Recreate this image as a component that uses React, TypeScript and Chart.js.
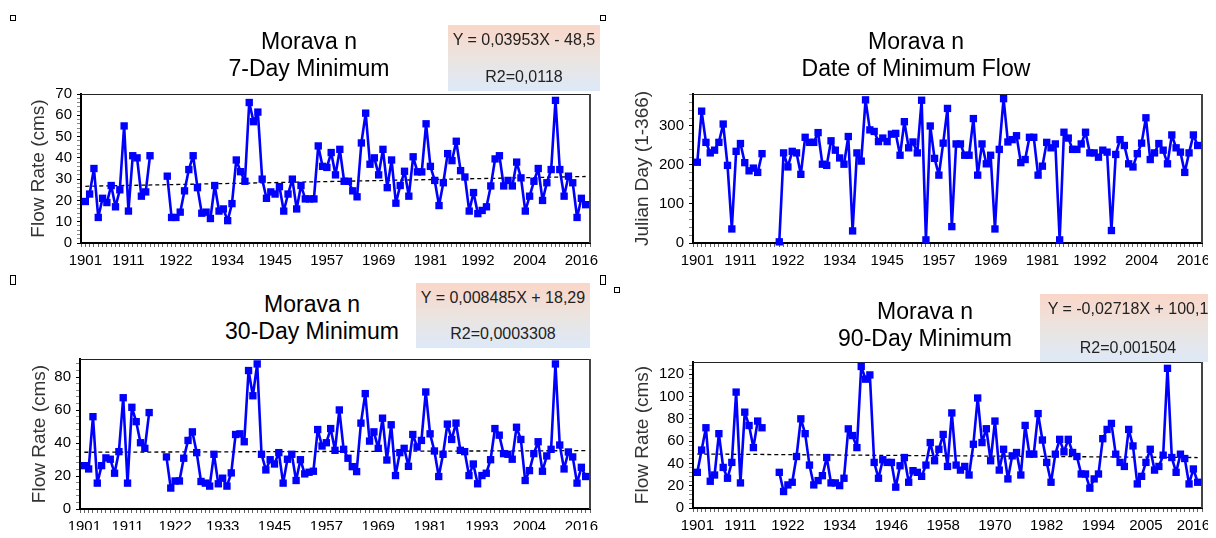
import React, { useEffect, useRef } from 'react';
import { Chart, registerables } from 'chart.js';
Chart.register(...registerables);

// ---------- data ----------
const FIRST_YEAR = 1901;
const LAST_YEAR = 2017;
const years: number[] = [];
for (let y = FIRST_YEAR; y <= LAST_YEAR; y++) years.push(y);

const min7Day = [
  19.5, 23, 35, 12, 21, 19, 27, 17, 25, 55,
  15, 41, 40, 22, 24, 41, null, null, null, 31.4,
  12, 12, 14.5, 24.5, 34.5, 41, 26, 14, 14.5, 11.5,
  27, 15, 16, 10.5, 18.5, 39, 33.5, 29, 66, 57,
  61.5, 30, 21, 24, 23, 26.5, 15, 23, 30, 16,
  27, 20.7, 20.7, 20.7, 45.6, 36, 35.5, 42.5, 32, 44,
  29, 29, 24.5, 21.7, 47, 61, 37, 40, 32, 44,
  26, 39, 18.7, 27, 33.7, 22, 40.5, 33.4, 33.4, 56,
  36, 29.4, 17.6, 28.3, 42, 38.7, 47.8, 34, 31, 15,
  23.7, 13.8, 15.3, 17, 26.8, 39.5, 41, 26.8, 29.4, 26.8,
  38, 30.6, 15, 22, 29, 35, 20, 28.3, 34.5, 67,
  34.5, 22, 31.4, 28.3, 12, 21, 18,
];

const minDate = [
  207, 338, 258, 231, 238, 258, 305, 199, 36, 235,
  255, 206, 185, 192, 181, 229, null, null, null, 3,
  231, 195, 235, 231, 176, 271, 258, 258, 283, 202,
  199, 262, 238, 218, 202, 273, 31, 231, 210, 367,
  290, 286, 260, 269, 260, 279, 281, 225, 311, 244,
  259, 231, 366, 8, 300, 217, 174, 256, 345, 42,
  254, 254, 225, 225, 319, 174, 254, 203, 225, 36,
  240, 370, 259, 265, 275, 206, 214, 271, 271, 174,
  197, 258, 244, 254, 8, 284, 269, 240, 240, 254,
  284, 231, 231, 220, 238, 233, 32, 227, 265, 250,
  203, 195, 229, 256, 321, 214, 231, 255, 238, 203,
  277, 244, 233, 181, 231, 277, 250,
];

const min30Day = [
  26.3, 24.3, 56, 15.7, 26.3, 31, 30.2, 21.7, 34.8, 67.5,
  15.7, 61.7, 53, 40.2, 36.8, 58.5, null, null, null, 31.6,
  12.7, 17, 17, 30.8, 41.6, 46.8, 34.2, 16.7, 15.7, 13.9,
  33.2, 15.3, 18.7, 13.9, 21.9, 45.2, 45.6, 40.8, 84, 68.7,
  88, 33.2, 23.7, 29.9, 27.3, 34.2, 15.7, 30.2, 33.2, 17.3,
  29.9, 21.3, 22.3, 22.9, 48.2, 38.2, 40.2, 48.8, 35.6, 60.1,
  36.2, 30.8, 25.7, 22.7, 52.1, 70, 41.2, 46.8, 36.8, 55.1,
  29.7, 51.1, 20.3, 34.2, 36.8, 25.9, 45.2, 37.6, 41.6, 71,
  45.6, 35.2, 19.7, 33.2, 51.5, 42.2, 52.1, 35.6, 34.8, 20.3,
  27.3, 15.3, 20.3, 21.7, 29.9, 48.8, 44.8, 33.6, 33.2, 30.2,
  49.6, 42.2, 17.3, 23.3, 33.6, 40.8, 22.9, 32.2, 36.2, 88,
  38.8, 24.3, 34.6, 31.6, 15.7, 25.3, 19.7,
];

const min90Day = [
  32, 52, 72, 24, 29.6, 66.7, 36.4, 26.7, 40.9, 104,
  22.5, 86, 74, 54.2, 78, 72, null, null, null, 32,
  14.8, 20.7, 23.1, 46.2, 80, 66.7, 38.5, 20.7, 24.6, 29,
  45.3, 22.5, 22.5, 20.1, 26.7, 71, 65, 54.2, 127, 115.6,
  119.4, 40.9, 26.7, 43.3, 40.9, 40.9, 18.7, 37.9, 45.3, 23.1,
  33.5, 32, 28.4, 38.5, 58.7, 42.4, 52.7, 66, 37.3, 85.3,
  38.5, 34, 37.3, 29.6, 57.2, 98.7, 58.7, 71.1, 42.4, 78,
  34, 52.7, 26.1, 46.8, 49.8, 29.6, 74.1, 48.3, 48.3, 84.7,
  61, 40.9, 23.1, 48.3, 61.6, 50.4, 61.6, 49.8, 46.2, 30.5,
  30.5, 17.8, 26.1, 30.5, 62.2, 70.5, 75.9, 48.3, 40.9, 37.3,
  70.5, 55.7, 21.6, 28.4, 40.9, 52.7, 34, 37.3, 47.4, 125.3,
  45.3, 32, 48.3, 44.4, 21.6, 35, 23.1,
];

const xLabels7 = [1901, 1911, 1922, 1934, 1945, 1957, 1969, 1981, 1992, 2004, 2016];
const xLabelsDate = [1901, 1911, 1922, 1934, 1945, 1957, 1969, 1981, 1992, 2004, 2016];
const xLabels30 = [1901, 1911, 1922, 1933, 1945, 1957, 1969, 1981, 1993, 2004, 2016];
const xLabels90 = [1901, 1911, 1922, 1934, 1946, 1958, 1970, 1982, 1994, 2005, 2016];

const yLabels7 = [0, 10, 20, 30, 40, 50, 60, 70];
const yLabelsDate = [0, 100, 200, 300];
const yLabels30 = [0, 20, 40, 60, 80];
const yLabels90 = [0, 20, 40, 60, 80, 100, 120];

const trend7 = { slope: 0.03953, intercept: -48.5 };
const trend30 = { slope: 0.008485, intercept: 18.29 };
const trend90 = { slope: -0.02718, intercept: 100.1 };

// ---------- styling ----------
const FONT = "'Liberation Sans', Arial, Helvetica, sans-serif";

const framePlugin = {
  id: 'frame',
  beforeDatasetsDraw(chart: any) {
    const { ctx, chartArea } = chart;
    const { left, right, top, bottom } = chartArea;
    ctx.save();
    ctx.strokeStyle = '#222';
    ctx.lineWidth = 1;
    ctx.beginPath();
    ctx.moveTo(left, Math.round(top) + 0.5);
    ctx.lineTo(right, Math.round(top) + 0.5);
    ctx.stroke();
    ctx.strokeStyle = '#444';
    ctx.lineWidth = 2;
    ctx.beginPath();
    ctx.moveTo(Math.round(right), top);
    ctx.lineTo(Math.round(right), bottom);
    ctx.stroke();
    ctx.restore();
  },
};

type PanelCfg = {
  values: (number | null)[];
  xLabels: number[];
  yLabels: number[];
  yMinorStep: number;
  yMax: number;
  yTitle: string;
  trend?: { slope: number; intercept: number };
  left: number;
  top: number;
  width: number;
  height: number;
  padTop: number;
  padRight: number;
  yAxisWidth: number;
  xAxisHeight: number;
  yTitlePad: number;
};

function Panel({ cfg }: { cfg: PanelCfg }) {
  const ref = useRef<HTMLCanvasElement | null>(null);
  useEffect(() => {
    if (!ref.current) return;
    const pts = years.map((yr, i) => ({ x: yr, y: cfg.values[i] }));
    const datasets: any[] = [
      {
        data: pts,
        borderColor: '#0000ff',
        backgroundColor: '#0000ff',
        borderWidth: 2.6,
        borderJoinStyle: 'round',
        borderCapStyle: 'round',
        pointStyle: 'rect',
        pointRadius: 5.2,
        pointBorderWidth: 0,
        spanGaps: false,
        tension: 0,
        order: 1,
        clip: false,
      },
    ];
    if (cfg.trend) {
      const t = cfg.trend;
      datasets.push({
        data: [
          { x: FIRST_YEAR, y: t.slope * FIRST_YEAR + t.intercept },
          { x: LAST_YEAR, y: t.slope * LAST_YEAR + t.intercept },
        ],
        borderColor: '#000',
        borderWidth: 1.3,
        borderDash: [4, 3],
        pointRadius: 0,
        order: 2,
      });
    }
    const xTickVals: number[] = [];
    for (let v = FIRST_YEAR - 1; v <= LAST_YEAR + 1; v++) xTickVals.push(v);
    const yTickVals: number[] = [];
    for (let v = 0; v <= cfg.yMax + 1e-9; v += cfg.yMinorStep) yTickVals.push(Math.round(v * 1000) / 1000);
    const xSet = new Set(cfg.xLabels);
    const ySet = new Set(cfg.yLabels);

    const chart = new Chart(ref.current, {
      type: 'line',
      data: { datasets },
      plugins: [framePlugin],
      options: {
        animation: false,
        responsive: false,
        maintainAspectRatio: false,
        layout: { padding: { top: cfg.padTop, right: cfg.padRight, left: 0, bottom: 0 } },
        plugins: { legend: { display: false }, tooltip: { enabled: false }, title: { display: false } },
        scales: {
          x: {
            type: 'linear',
            min: FIRST_YEAR - 1,
            max: LAST_YEAR + 1,
            afterBuildTicks: (s: any) => {
              s.ticks = xTickVals.map((v) => ({ value: v }));
            },
            afterFit: (s: any) => {
              s.height = cfg.xAxisHeight;
            },
            ticks: {
              autoSkip: false,
              maxRotation: 0,
              minRotation: 0,
              padding: 5,
              color: '#000',
              font: { family: FONT, size: 15 },
              callback: (v: any) => (xSet.has(v) ? String(v) : ''),
            },
            grid: { drawOnChartArea: false, tickLength: 4, tickColor: '#666', tickWidth: 1 },
            border: { display: true, color: '#000', width: 2 },
          },
          y: {
            type: 'linear',
            min: 0,
            max: cfg.yMax,
            afterBuildTicks: (s: any) => {
              s.ticks = yTickVals.map((v) => ({ value: v }));
            },
            afterFit: (s: any) => {
              s.width = cfg.yAxisWidth;
            },
            ticks: {
              autoSkip: false,
              padding: 5,
              color: '#000',
              font: { family: FONT, size: 15 },
              callback: (v: any) => (ySet.has(v) ? String(v) : ''),
            },
            grid: {
              drawOnChartArea: false,
              tickLength: 4,
              tickWidth: 1,
              tickColor: (c: any) => (c.tick && ySet.has(c.tick.value) ? '#000' : '#888'),
            },
            border: { display: true, color: '#000', width: 2 },
            title: {
              display: true,
              text: cfg.yTitle,
              color: '#333',
              font: { family: FONT, size: 19 },
              padding: { top: cfg.yTitlePad, bottom: 0 },
            },
          },
        },
      } as any,
    });
    return () => chart.destroy();
  }, []);
  return (
    <canvas
      ref={ref}
      width={cfg.width}
      height={cfg.height}
      style={{ position: 'absolute', left: cfg.left, top: cfg.top, width: cfg.width, height: cfg.height }}
    />
  );
}

const panels: PanelCfg[] = [
  {
    values: min7Day, xLabels: xLabels7, yLabels: yLabels7, yMinorStep: 2, yMax: 70,
    yTitle: 'Flow Rate (cms)', trend: trend7,
    left: 0, top: 80, width: 600, height: 200, padTop: 11, padRight: 10, yAxisWidth: 81, xAxisHeight: 37, yTitlePad: 27,
  },
  {
    values: minDate, xLabels: xLabelsDate, yLabels: yLabelsDate, yMinorStep: 20, yMax: 382,
    yTitle: 'Julian Day (1-366)',
    left: 600, top: 80, width: 616, height: 200, padTop: 11, padRight: 14, yAxisWidth: 93, xAxisHeight: 37, yTitlePad: 31,
  },
  {
    values: min30Day, xLabels: xLabels30, yLabels: yLabels30, yMinorStep: 4, yMax: 91,
    yTitle: 'Flow Rate (cms)', trend: trend30,
    left: 0, top: 345, width: 600, height: 193, padTop: 11, padRight: 10, yAxisWidth: 80, xAxisHeight: 29, yTitlePad: 28,
  },
  {
    values: min90Day, xLabels: xLabels90, yLabels: yLabels90, yMinorStep: 4, yMax: 131,
    yTitle: 'Flow Rate (cms)', trend: trend90,
    left: 600, top: 345, width: 616, height: 193, padTop: 17, padRight: 14, yAxisWidth: 93, xAxisHeight: 30, yTitlePad: 31,
  },
];

const titles = [
  { cx: 309, y: 28, lines: ['Morava n', '7-Day Minimum'] },
  { cx: 916, y: 28, lines: ['Morava n', 'Date of Minimum Flow'] },
  { cx: 312, y: 291, lines: ['Morava n', '30-Day Minimum'] },
  { cx: 925, y: 298, lines: ['Morava n', '90-Day Minimum'] },
];

const eqBoxes = [
  { left: 448, top: 25, width: 152, height: 66, eq: 'Y = 0,03953X - 48,5', r2: 'R2=0,0118' },
  { left: 416, top: 283, width: 174, height: 65, eq: 'Y = 0,008485X + 18,29', r2: 'R2=0,0003308' },
  { left: 1040, top: 294, width: 176, height: 68, eq: 'Y = -0,02718X + 100,1', r2: 'R2=0,001504' },
];

const handles = [
  { x: 10, y: 15, w: 6, h: 6 },
  { x: 600, y: 15, w: 6, h: 6 },
  { x: 10, y: 275, w: 6, h: 10 },
  { x: 600, y: 275, w: 6, h: 10 },
  { x: 614, y: 287, w: 6, h: 6 },
  { x: 1210, y: 289, w: 6, h: 6 },
];

export default function App() {
  return (
    <div style={{ position: 'relative', width: 1216, height: 538, background: '#fff', margin: -8, overflow: 'hidden', fontFamily: FONT }}>
      {panels.map((p, i) => (
        <Panel key={i} cfg={p} />
      ))}
      {titles.map((t, i) => (
        <div
          key={'t' + i}
          style={{
            position: 'absolute', left: t.cx - 150, top: t.y, width: 300, textAlign: 'center',
            fontSize: 23, lineHeight: '27px', color: '#000',
          }}
        >
          {t.lines.map((l, j) => (
            <div key={j}>{l}</div>
          ))}
        </div>
      ))}
      {eqBoxes.map((b, i) => (
        <div
          key={'e' + i}
          style={{
            position: 'absolute', left: b.left, top: b.top, width: b.width, height: b.height,
            background: 'linear-gradient(to bottom, #fad6c8 0%, #ebe4e0 50%, #dde9f8 100%)',
            color: '#222', fontSize: 16, textAlign: 'center', whiteSpace: 'nowrap',
          }}
        >
          <div style={{ position: 'absolute', left: 0, right: 0, top: 5, lineHeight: '20px' }}>{b.eq}</div>
          <div style={{ position: 'absolute', left: 0, right: 0, bottom: 4, lineHeight: '20px' }}>{b.r2}</div>
        </div>
      ))}
      {handles.map((h, i) => (
        <div
          key={'h' + i}
          style={{
            position: 'absolute', left: h.x, top: h.y, width: h.w, height: h.h,
            border: '1px solid #000', boxSizing: 'border-box', background: '#fff',
          }}
        />
      ))}
    </div>
  );
}
